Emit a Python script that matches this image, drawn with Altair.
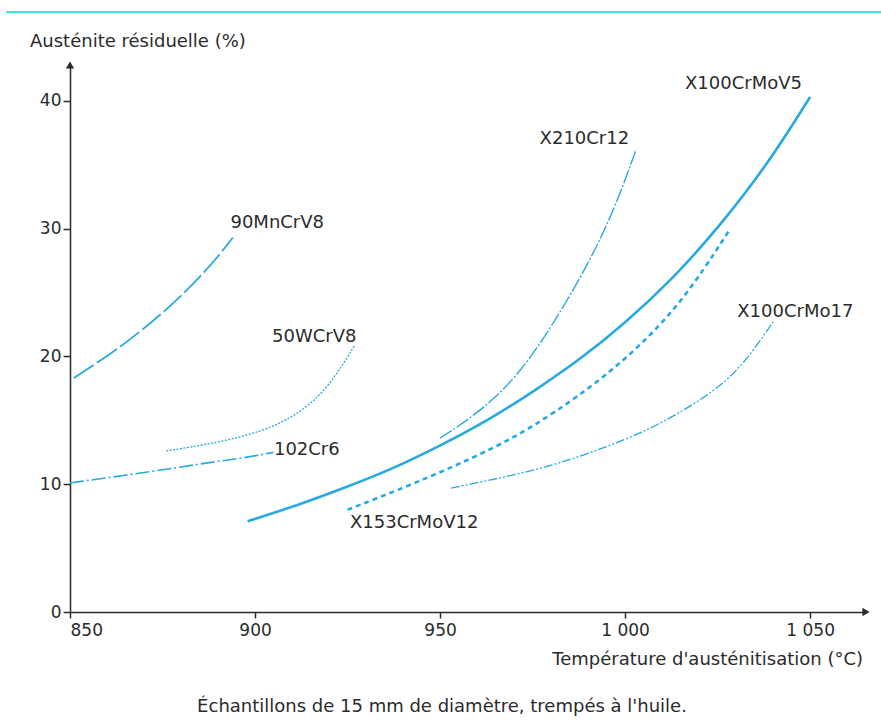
import altair as alt
import pandas as pd

# Retained austenite (%) vs austenitizing temperature (°C), oil-quenched 15 mm samples
x100crmov5_t = [898, 912, 925, 938, 950, 963, 975, 988, 1000, 1013, 1025, 1038, 1050]
x100crmov5_v = [7.1, 8.4, 9.8, 11.3, 13.0, 15.0, 17.2, 19.8, 22.6, 26.1, 30.0, 34.8, 40.3]

x153crmov12_t = [925, 940, 953, 965, 975, 987, 1000, 1015, 1028]
x153crmov12_v = [8.0, 9.7, 11.3, 12.9, 14.5, 16.8, 19.7, 24.0, 29.8]

x210cr12_t = [950, 960, 970, 980, 990, 997, 1003]
x210cr12_v = [13.6, 15.5, 18.1, 22.2, 27.2, 31.4, 36.2]

x100crmo17_t = [953, 965, 980, 994, 1006, 1016, 1024, 1030, 1035, 1040]
x100crmo17_v = [9.7, 10.4, 11.4, 12.8, 14.2, 15.8, 17.3, 18.8, 20.6, 22.7]

mncrv8_t = [851, 860, 868, 875, 881, 886, 890, 894]
mncrv8_v = [18.3, 20.0, 21.7, 23.4, 25.0, 26.5, 27.8, 29.3]

wcrv8_t = [876, 889, 902, 912, 920, 927]
wcrv8_v = [12.6, 13.2, 14.1, 15.5, 17.6, 20.9]

cr6_t = [850, 865, 879, 890, 898, 905]
cr6_v = [10.1, 10.7, 11.3, 11.8, 12.1, 12.5]

curve_names = ["X100CrMoV5", "X153CrMoV12", "X210Cr12", "X100CrMo17",
               "90MnCrV8", "50WCrV8", "102Cr6"]
curve_temps = [x100crmov5_t, x153crmov12_t, x210cr12_t, x100crmo17_t,
               mncrv8_t, wcrv8_t, cr6_t]
curve_values = [x100crmov5_v, x153crmov12_v, x210cr12_v, x100crmo17_v,
                mncrv8_v, wcrv8_v, cr6_v]

# line styles: (stroke width, dash pattern)
curve_styles = {
    "X100CrMoV5": (2.6, []),
    "X153CrMoV12": (2.6, [5, 4]),
    "X210Cr12": (1.4, [14, 2, 2, 2]),
    "X100CrMo17": (1.3, [9, 2, 2, 2, 2, 2]),
    "90MnCrV8": (1.8, [24, 4]),
    "50WCrV8": (1.3, [2, 1.5]),
    "102Cr6": (1.6, [14, 3, 2, 3]),
}

label_x = [1032, 943, 989, 1046, 906, 916, 914]
label_y = [41.3, 7.0, 37.0, 23.5, 30.4, 21.5, 12.7]

x_ticks = [850, 900, 950, 1000, 1050]
y_ticks = [0, 10, 20, 30, 40]

X_MAX = 1065.1
Y_MAX = 42.8
W, H = 796, 547
BLUE = "#27A9E1"
INK = "#2b2b2b"
FONT = "DejaVu Sans"

x_scale = alt.Scale(domain=[850, X_MAX], nice=False, zero=False)
y_scale = alt.Scale(domain=[0, Y_MAX], nice=False, zero=True)

layers = []
for name, ts, vs in zip(curve_names, curve_temps, curve_values):
    df = pd.DataFrame({"t": ts, "v": vs, "curve": name})
    sw, dash = curve_styles[name]
    mark_kw = dict(color=BLUE, strokeWidth=sw, interpolate="basis", clip=False)
    if dash:
        mark_kw["strokeDash"] = dash
    layers.append(
        alt.Chart(df).mark_line(**mark_kw).encode(
            x=alt.X("t:Q", scale=x_scale,
                    axis=alt.Axis(values=x_ticks, title=None, grid=False,
                                  labelExpr="replace(format(datum.value, ',d'), ',', ' ')",
                                  labelFont=FONT, labelFontSize=17, labelColor=INK,
                                  labelPadding=4, tickSize=6, tickColor=INK,
                                  domainColor=INK, domainWidth=1.5, tickWidth=1.5)),
            y=alt.Y("v:Q", scale=y_scale,
                    axis=alt.Axis(values=y_ticks, title=None, grid=False,
                                  labelFont=FONT, labelFontSize=17, labelColor=INK,
                                  labelPadding=2, tickSize=7, tickColor=INK,
                                  domainColor=INK, domainWidth=1.5, tickWidth=1.5)),
        )
    )

labels_df = pd.DataFrame({"t": label_x, "v": label_y, "name": curve_names})
labels = alt.Chart(labels_df).mark_text(
    font=FONT, fontSize=18, color=INK, align="center", baseline="middle"
).encode(x=alt.X("t:Q", scale=x_scale), y=alt.Y("v:Q", scale=y_scale), text="name:N")

# axis arrowheads
arrows_df = pd.DataFrame({"t": [850, X_MAX], "v": [Y_MAX, 0],
                          "shape": ["triangle-up", "triangle-right"]})
arrows = alt.Chart(arrows_df).mark_point(
    filled=True, color=INK, size=70, opacity=1
).encode(x=alt.X("t:Q", scale=x_scale), y=alt.Y("v:Q", scale=y_scale),
         shape=alt.Shape("shape:N", scale=None))

y_title = alt.Chart(pd.DataFrame({"s": ["Austénite résiduelle (%)"]})).mark_text(
    font=FONT, fontSize=18, color=INK, align="left", baseline="middle"
).encode(x=alt.value(-40), y=alt.value(-23), text="s:N")

x_title = alt.Chart(pd.DataFrame({"s": ["Température d'austénitisation (°C)"]})).mark_text(
    font=FONT, fontSize=18, color=INK, align="right", baseline="middle"
).encode(x=alt.value(793), y=alt.value(595), text="s:N")

caption = alt.Chart(pd.DataFrame({"s": ["Échantillons de 15 mm de diamètre, trempés à l'huile."]})).mark_text(
    font=FONT, fontSize=18, color=INK, align="center", baseline="middle"
).encode(x=alt.value(372), y=alt.value(642), text="s:N")

top_rule = alt.Chart(pd.DataFrame({"k": [0]})).mark_rule(
    color="#3FE3E8", strokeWidth=2
).encode(x=alt.value(-64), x2=alt.value(812), y=alt.value(-53))

chart = alt.layer(*layers, labels, arrows, y_title, x_title, caption, top_rule).properties(
    width=W, height=H,
    autosize=alt.AutoSizeParams(type="none"),
    padding={"left": 70, "top": 65, "right": 15, "bottom": 112},
    background="white",
).configure_view(stroke=None)

chart.save("out.html", embed_options={"renderer": "svg", "actions": False})
